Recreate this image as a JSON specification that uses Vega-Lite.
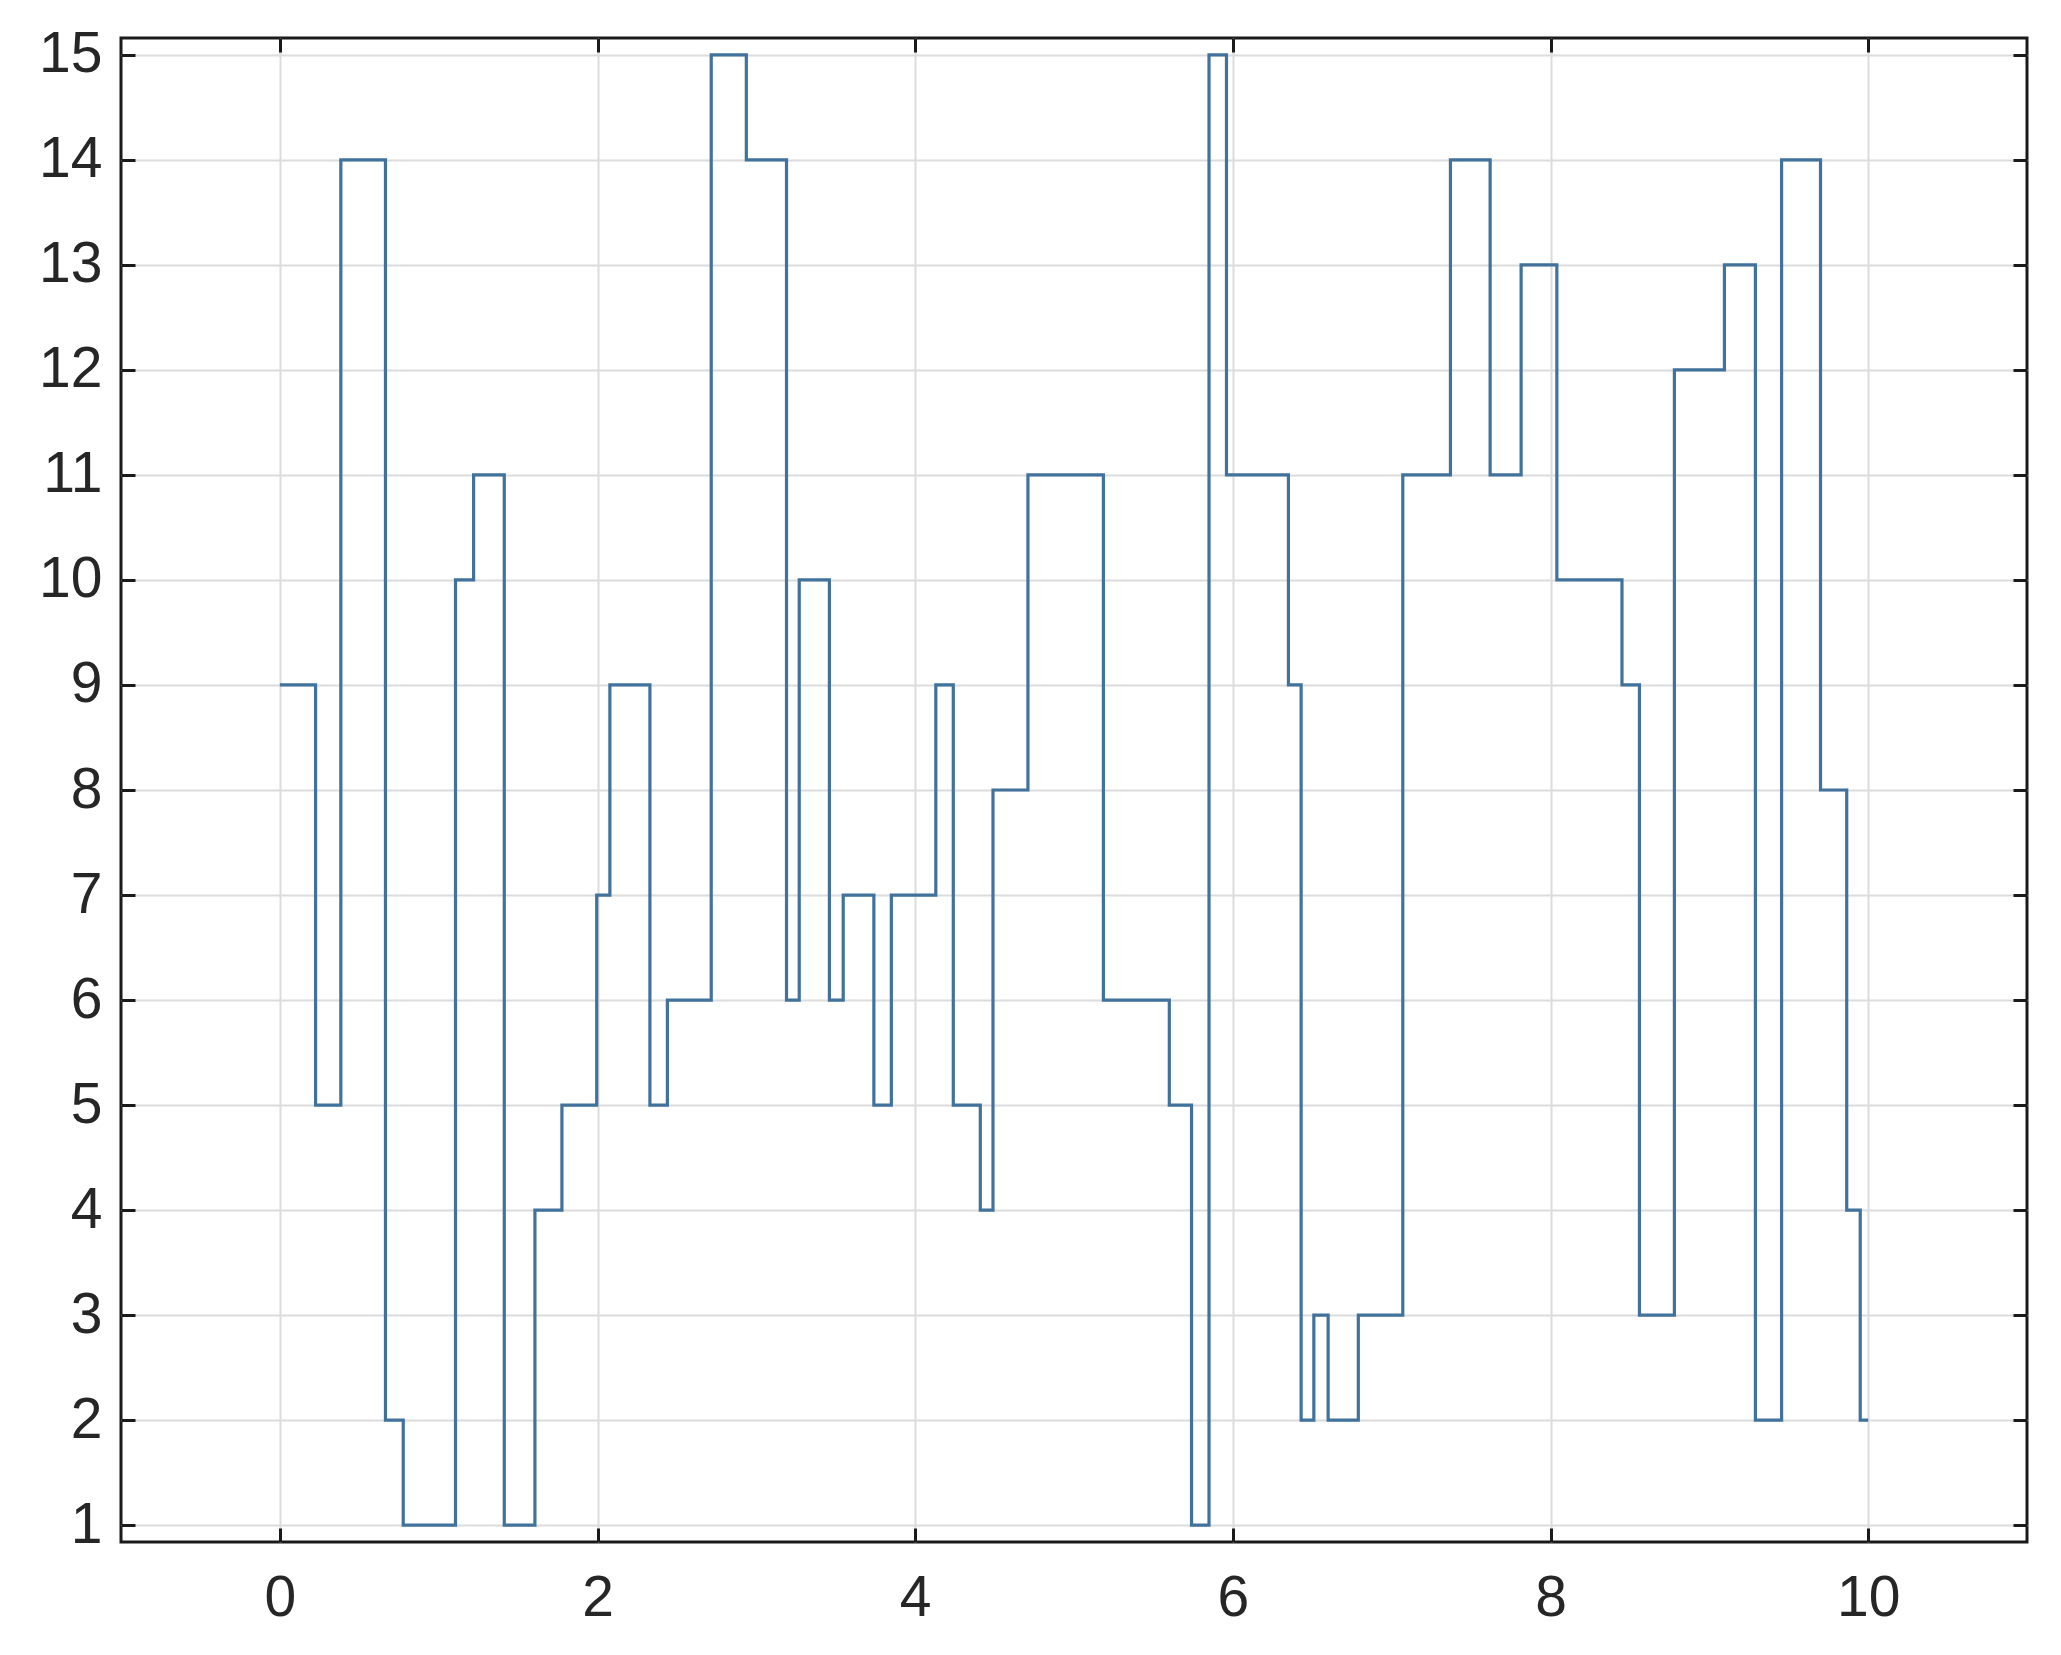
{
  "$schema": "https://vega.github.io/schema/vega-lite/v6.json",
  "width": 1906,
  "height": 1504,
  "autosize": {"type": "none"},
  "padding": {"left": 121, "top": 38, "right": 34, "bottom": 113},
  "background": "white",
  "config": {
    "view": {"stroke": "#1a1a1a", "strokeWidth": 3},
    "axis": {
      "labelFont": "Liberation Sans",
      "labelFontSize": 57,
      "labelColor": "#262626",
      "gridColor": "#dcdcdc",
      "gridWidth": 2,
      "gridOpacity": 1,
      "tickColor": "#1a1a1a",
      "tickWidth": 3,
      "domain": false,
      "title": null
    }
  },
  "data": {
    "values": [
      {"t": 0, "v": 9}, {"t": 0.225, "v": 5}, {"t": 0.384, "v": 14}, {"t": 0.665, "v": 2},
      {"t": 0.777, "v": 1}, {"t": 1.106, "v": 10}, {"t": 1.22, "v": 11}, {"t": 1.413, "v": 1},
      {"t": 1.606, "v": 4}, {"t": 1.776, "v": 5}, {"t": 1.995, "v": 7}, {"t": 2.078, "v": 9},
      {"t": 2.33, "v": 5}, {"t": 2.44, "v": 6}, {"t": 2.716, "v": 15}, {"t": 2.937, "v": 14},
      {"t": 3.19, "v": 6}, {"t": 3.27, "v": 10}, {"t": 3.46, "v": 6}, {"t": 3.547, "v": 7},
      {"t": 3.74, "v": 5}, {"t": 3.85, "v": 7}, {"t": 4.13, "v": 9}, {"t": 4.24, "v": 5},
      {"t": 4.41, "v": 4}, {"t": 4.49, "v": 8}, {"t": 4.71, "v": 11}, {"t": 5.185, "v": 6},
      {"t": 5.6, "v": 5}, {"t": 5.74, "v": 1}, {"t": 5.85, "v": 15}, {"t": 5.96, "v": 11},
      {"t": 6.35, "v": 9}, {"t": 6.43, "v": 2}, {"t": 6.51, "v": 3}, {"t": 6.6, "v": 2},
      {"t": 6.79, "v": 3}, {"t": 7.07, "v": 11}, {"t": 7.37, "v": 14}, {"t": 7.62, "v": 11},
      {"t": 7.815, "v": 13}, {"t": 8.04, "v": 10}, {"t": 8.45, "v": 9}, {"t": 8.56, "v": 3},
      {"t": 8.78, "v": 12}, {"t": 9.095, "v": 13}, {"t": 9.29, "v": 2}, {"t": 9.455, "v": 14},
      {"t": 9.7, "v": 8}, {"t": 9.865, "v": 4}, {"t": 9.95, "v": 2}, {"t": 10, "v": 2}
    ]
  },
  "layer": [
    {
      "mark": {"type": "line", "interpolate": "step-after", "color": "#40729c", "strokeWidth": 3.2, "clip": true},
      "encoding": {
        "x": {
          "field": "t", "type": "quantitative",
          "scale": {"domain": [-1, 11], "nice": false, "zero": false},
          "axis": {"orient": "bottom", "values": [0, 2, 4, 6, 8, 10], "tickSize": -14, "labelPadding": 42, "grid": true}
        },
        "y": {
          "field": "v", "type": "quantitative",
          "scale": {"domain": [0.84, 15.16], "nice": false, "zero": false},
          "axis": {"orient": "left", "values": [1, 2, 3, 4, 5, 6, 7, 8, 9, 10, 11, 12, 13, 14, 15], "tickSize": -14, "labelPadding": 33, "grid": true}
        }
      }
    },
    {
      "mark": {"type": "line", "interpolate": "step-after", "opacity": 0},
      "encoding": {
        "x": {
          "field": "t", "type": "quantitative",
          "axis": {"orient": "top", "values": [0, 2, 4, 6, 8, 10], "tickSize": -14, "labels": false, "grid": false}
        },
        "y": {
          "field": "v", "type": "quantitative",
          "axis": {"orient": "right", "values": [1, 2, 3, 4, 5, 6, 7, 8, 9, 10, 11, 12, 13, 14, 15], "tickSize": -14, "labels": false, "grid": false}
        }
      }
    }
  ],
  "resolve": {"axis": {"x": "independent", "y": "independent"}}
}
